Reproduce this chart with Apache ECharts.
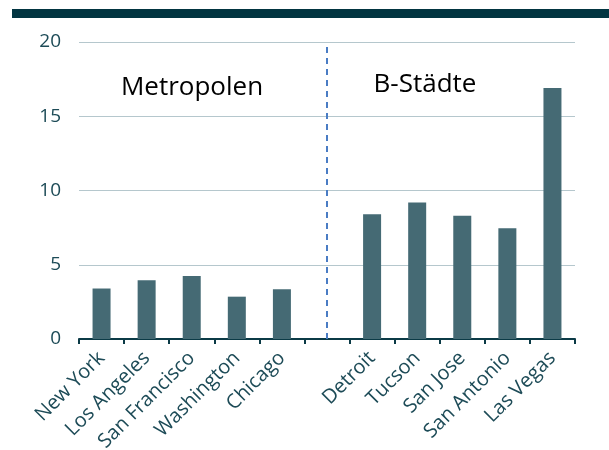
<!DOCTYPE html>
<html>
<head>
<meta charset="utf-8">
<script src="https://cdn.jsdelivr.net/npm/echarts@6/dist/echarts.min.js"></script>
<style>
html,body{margin:0;padding:0;background:#fff;}
#chart{width:609px;height:450px;}
</style>
</head>
<body>
<div id="chart"></div>
<script>
const categories = ['New York','Los Angeles','San Francisco','Washington','Chicago','','Detroit','Tucson','San Jose','San Antonio','Las Vegas'];
const values = [3.4, 3.95, 4.25, 2.85, 3.35, null, 8.4, 9.2, 8.3, 7.45, 16.9];
const yTicks = [0, 5, 10, 15, 20];
const groupLabels = ['Metropolen', 'B-Städte'];

const chart = echarts.init(document.getElementById('chart'), null, {renderer: 'canvas'});
const textColor = '#1d4b57';
chart.setOption({
  animation: false,
  grid: {left: 79, right: 34, top: 42, bottom: 111, containLabel: false, outerBoundsMode: 'none'},
  xAxis: {
    type: 'category',
    data: categories,
    axisLine: {lineStyle: {color: '#0b3a46', width: 2}},
    axisTick: {show: true, alignWithLabel: false, length: 5, lineStyle: {color: '#0b3a46', width: 2}},
    axisLabel: {rotate: 45, color: textColor, fontFamily: 'Open Sans', fontSize: 20, margin: 16, interval: 0}
  },
  yAxis: {
    type: 'value',
    min: yTicks[0], max: yTicks[yTicks.length - 1], interval: 5,
    axisLine: {show: false},
    axisTick: {show: false},
    axisLabel: {color: textColor, fontFamily: 'Open Sans', fontSize: 19, margin: 18},
    splitLine: {lineStyle: {color: '#b5c7cd', width: 1}}
  },
  series: [{
    type: 'bar',
    data: values,
    barWidth: 18,
    itemStyle: {color: '#456a74'},
    markLine: {
      silent: true,
      symbol: 'none',
      label: {show: false},
      lineStyle: {type: [6, 5], color: '#4a7cc4', width: 2},
      data: [{xAxis: 5}]
    }
  }],
  graphic: [
    {type: 'rect', shape: {x: 12, y: 9, width: 597, height: 9}, style: {fill: '#023541'}},
    {type: 'text', x: 192, y: 88, style: {text: groupLabels[0], font: '26px "Open Sans"', fill: '#000', textAlign: 'center', textVerticalAlign: 'middle'}},
    {type: 'text', x: 425, y: 85, style: {text: groupLabels[1], font: '26px "Open Sans"', fill: '#000', textAlign: 'center', textVerticalAlign: 'middle'}}
  ]
});
</script>
</body>
</html>
